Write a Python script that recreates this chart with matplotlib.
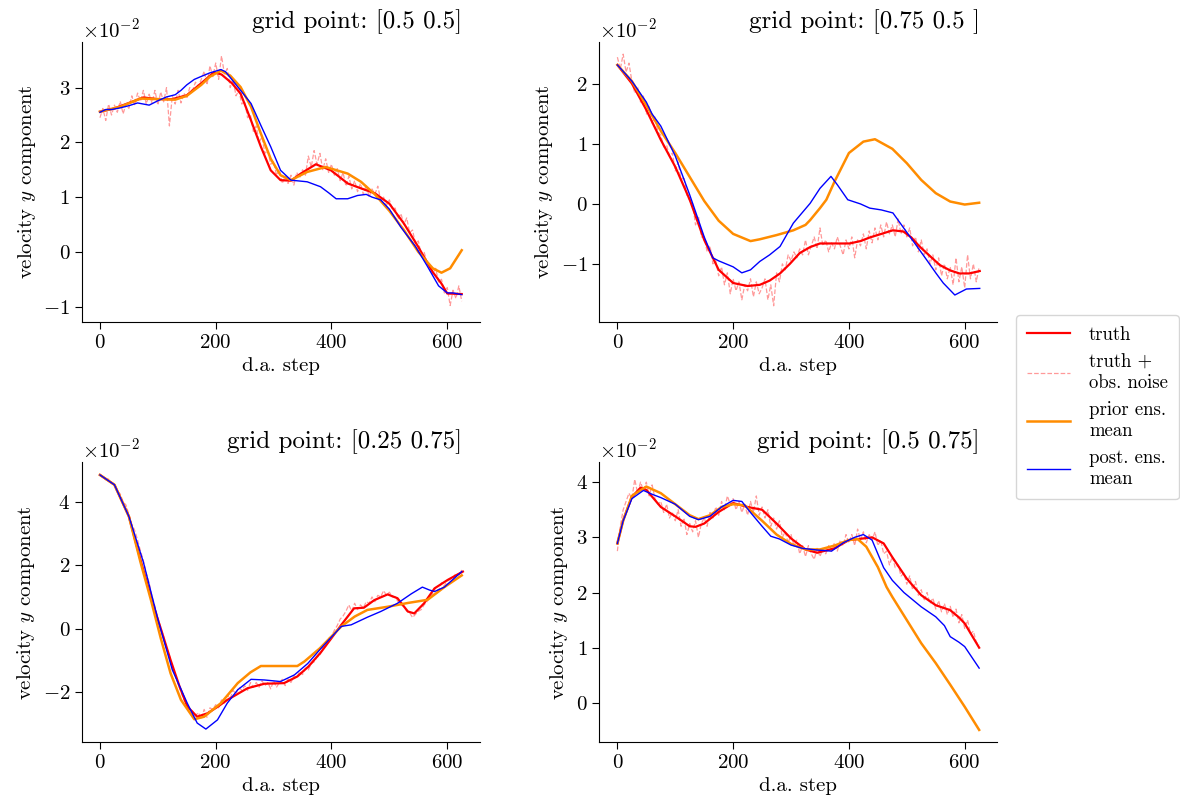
import numpy as np
import matplotlib
matplotlib.use("Agg")
import matplotlib.pyplot as plt

plt.rcParams.update({
    "font.family": "serif",
    "font.serif": ["cmr10"],
    "mathtext.fontset": "cm",
    "axes.formatter.use_mathtext": True,
    "axes.unicode_minus": True,
})

# all velocities below are in units of 1e-2
titles = ["grid point: [0.5 0.5]", "grid point: [0.75 0.5 ]",
          "grid point: [0.25 0.75]", "grid point: [0.5 0.75]"]

# --- grid point [0.5 0.5]
truth_x1 = [0, 25, 50, 75, 100, 125, 150, 175, 197, 210, 228, 243, 261, 278, 295, 312, 330,
            347, 373, 399, 428, 451, 475, 500, 525, 550, 575, 590, 600, 625]
truth_y1 = [2.56, 2.62, 2.72, 2.82, 2.79, 2.79, 2.86, 3.08, 3.28, 3.24, 3.08, 2.89, 2.4, 1.92,
            1.49, 1.31, 1.3, 1.43, 1.6, 1.49, 1.25, 1.16, 1.07, 0.88, 0.52, 0.09, -0.37, -0.58,
            -0.76, -0.77]
prior_x1 = [0, 35, 70, 100, 130, 150, 175, 190, 209, 225, 243, 261, 278, 295, 312, 330, 358,
            390, 428, 451, 475, 500, 525, 550, 575, 590, 605, 625]
prior_y1 = [2.56, 2.65, 2.8, 2.79, 2.78, 2.85, 3.05, 3.2, 3.31, 3.22, 3.01, 2.65, 2.16, 1.7, 1.4,
            1.31, 1.46, 1.55, 1.43, 1.28, 1.05, 0.75, 0.4, 0.0, -0.3, -0.38, -0.3, 0.03]
post_x1 = [0, 10, 20, 35, 50, 65, 75, 85, 100, 115, 130, 140, 150, 163, 174, 190, 209, 217, 243,
           261, 278, 295, 312, 330, 358, 381, 395, 408, 428, 445, 460, 470, 485, 500, 520, 545,
           565, 585, 600, 610, 625]
post_y1 = [2.55, 2.6, 2.6, 2.63, 2.67, 2.72, 2.7, 2.68, 2.76, 2.83, 2.87, 2.95, 3.05, 3.15, 3.2,
           3.27, 3.33, 3.29, 2.95, 2.71, 2.31, 1.92, 1.49, 1.31, 1.28, 1.19, 1.08, 0.97, 0.97,
           1.03, 1.05, 1.0, 0.95, 0.78, 0.45, 0.1, -0.25, -0.62, -0.75, -0.75, -0.78]
obs_y1 = [2.45, 2.62, 2.40, 2.70, 2.50, 2.68, 2.55, 2.75, 2.52, 2.70,
          2.62, 2.85, 2.68, 2.90, 2.75, 2.95, 2.70, 2.88, 2.72, 2.95,
          2.68, 2.92, 2.74, 3.00, 2.30, 2.85, 2.70, 2.95, 2.72, 2.90,
          2.80, 3.00, 2.95, 3.10, 3.02, 3.15, 3.30, 3.05, 3.40, 3.20,
          3.45, 3.15, 3.58, 3.25, 3.35, 3.00, 3.15, 2.85, 2.95, 2.70,
          2.75, 2.45, 2.50, 2.20, 2.30, 2.00, 2.10, 1.80, 1.85, 1.60,
          1.65, 1.40, 1.50, 1.25, 1.38, 1.25, 1.40, 1.22, 1.45, 1.35,
          1.50, 1.40, 1.75, 1.55, 1.85, 1.60, 1.80, 1.50, 1.70, 1.45,
          1.60, 1.40, 1.52, 1.30, 1.45, 1.20, 1.38, 1.15, 1.30, 1.10,
          1.25, 1.05, 1.22, 1.00, 1.15, 1.05, 1.20, 0.95, 1.00, 0.85,
          0.95, 0.78, 0.80, 0.60, 0.70, 0.50, 0.62, 0.35, 0.40, 0.15,
          0.20, -0.05, 0.00, -0.20, -0.25, -0.40, -0.30, -0.55, -0.50, -0.75,
          -0.65, -0.98, -0.70, -0.85, -0.62, -0.90]

# --- grid point [0.75 0.5]
truth_x2 = [0, 25, 50, 75, 100, 125, 150, 175, 200, 225, 246, 263, 281, 298, 315, 333, 350,
            375, 401, 420, 436, 456, 476, 494, 508, 522, 540, 557, 575, 591, 608, 626]
truth_y2 = [2.32, 2.01, 1.57, 1.07, 0.62, 0.07, -0.6, -1.1, -1.32, -1.37, -1.35, -1.28, -1.16,
            -1.0, -0.82, -0.72, -0.66, -0.66, -0.66, -0.62, -0.56, -0.5, -0.44, -0.46, -0.56, -0.71,
            -0.87, -1.02, -1.11, -1.16, -1.16, -1.12]
prior_x2 = [0, 25, 50, 75, 100, 125, 150, 175, 200, 230, 246, 275, 304, 325, 333, 350, 361, 375,
            400, 425, 445, 475, 500, 525, 550, 575, 600, 625]
prior_y2 = [2.32, 2.05, 1.65, 1.22, 0.85, 0.45, 0.05, -0.28, -0.5, -0.62, -0.59, -0.52, -0.44,
            -0.35, -0.27, -0.07, 0.07, 0.37, 0.85, 1.04, 1.08, 0.92, 0.68, 0.40, 0.18, 0.04, -0.01,
            0.02]
post_x2 = [0, 25, 50, 60, 75, 100, 125, 150, 165, 175, 200, 215, 230, 246, 263, 281, 304, 333,
           350, 369, 380, 398, 420, 436, 456, 476, 499, 517, 534, 550, 563, 583, 603, 626]
post_y2 = [2.32, 2.05, 1.7, 1.5, 1.3, 0.8, 0.15, -0.55, -0.9, -0.95, -1.05, -1.15, -1.1, -0.96,
           -0.85, -0.71, -0.32, 0.01, 0.26, 0.46, 0.32, 0.07, 0.0, -0.07, -0.1, -0.15, -0.46,
           -0.7, -0.93, -1.15, -1.32, -1.52, -1.42, -1.41]
obs_y2 = [2.45, 2.25, 2.50, 2.20, 2.35, 2.05, 1.85, 1.95, 1.70, 1.80,
          1.50, 1.62, 1.35, 1.45, 1.20, 1.15, 0.95, 0.98, 0.80, 0.85,
          0.55, 0.70, 0.40, 0.45, 0.15, 0.05, 0.00, -0.35, -0.20, -0.55,
          -0.55, -0.80, -0.70, -1.00, -0.95, -1.20, -1.05, -1.35, -1.15, -1.50,
          -1.25, -1.45, -1.30, -1.60, -1.35, -1.45, -1.25, -1.55, -1.30, -1.50,
          -1.40, -1.25, -1.60, -1.35, -1.70, -1.15, -1.30, -1.00, -1.10, -0.85,
          -0.95, -0.80, -0.90, -0.75, -0.85, -0.60, -0.85, -0.70, -0.55, -0.75,
          -0.40, -0.70, -0.60, -0.80, -0.65, -0.75, -0.55, -0.70, -0.85, -0.60,
          -0.75, -0.55, -0.90, -0.60, -0.70, -0.50, -0.75, -0.45, -0.65, -0.40,
          -0.60, -0.35, -0.55, -0.30, -0.50, -0.35, -0.55, -0.25, -0.50, -0.35,
          -0.55, -0.40, -0.70, -0.55, -0.80, -0.60, -0.85, -0.75, -1.00, -0.85,
          -1.10, -0.90, -1.20, -1.00, -1.25, -1.05, -1.35, -0.90, -1.30, -1.05,
          -1.40, -0.85, -1.25, -1.00, -1.30, -1.05]

# --- grid point [0.25 0.75]
truth_x3 = [0, 25, 50, 70, 93, 108, 122, 137, 151, 168, 186, 203, 220, 238, 255, 284, 318, 341,
            360, 382, 400, 417, 439, 456, 474, 497, 514, 532, 543, 560, 578, 601, 627]
truth_y3 = [4.85, 4.54, 3.54, 2.17, 0.69, -0.17, -0.99, -1.8, -2.46, -2.78, -2.67, -2.47, -2.25,
            -2.06, -1.88, -1.74, -1.72, -1.51, -1.2, -0.74, -0.3, 0.12, 0.64, 0.66, 0.9, 1.08,
            0.96, 0.54, 0.48, 0.8, 1.27, 1.54, 1.8]
prior_x3 = [0, 25, 50, 70, 88, 105, 122, 140, 163, 180, 209, 238, 260, 278, 312, 341, 353, 380,
            417, 440, 462, 497, 532, 566, 595, 625]
prior_y3 = [4.85, 4.54, 3.54, 2.1, 0.91, -0.3, -1.41, -2.25, -2.86, -2.78, -2.35, -1.72, -1.38,
            -1.18, -1.18, -1.18, -1.04, -0.62, 0.07, 0.38, 0.59, 0.69, 0.81, 0.91, 1.31, 1.68]
post_x3 = [0, 25, 50, 75, 100, 125, 151, 168, 183, 203, 220, 238, 261, 284, 312, 336, 359, 382,
           417, 434, 462, 485, 514, 538, 557, 569, 578, 595, 625]
post_y3 = [4.85, 4.54, 3.54, 2.1, 0.3, -1.3, -2.36, -2.98, -3.17, -2.88, -2.35, -1.93, -1.6,
           -1.62, -1.67, -1.46, -1.1, -0.62, 0.07, 0.12, 0.36, 0.54, 0.8, 1.1, 1.31, 1.22, 1.17,
           1.31, 1.8]
obs_y3 = [4.85, 4.80, 4.70, 4.72, 4.60, 4.55, 4.35, 4.25, 4.00, 3.90,
          3.60, 3.30, 3.10, 2.80, 2.45, 2.15, 1.75, 1.45, 1.00, 0.70,
          0.35, 0.05, -0.25, -0.60, -0.85, -1.20, -1.45, -1.75, -2.00, -2.25,
          -2.35, -2.55, -2.60, -2.75, -2.65, -2.85, -2.55, -2.80, -2.50, -2.55,
          -2.40, -2.50, -2.25, -2.35, -2.10, -2.20, -1.95, -2.05, -1.85, -1.95,
          -1.80, -1.95, -1.70, -1.85, -1.70, -1.85, -1.65, -1.80, -1.70, -1.90,
          -1.65, -1.85, -1.70, -1.60, -1.80, -1.60, -1.70, -1.50, -1.55, -1.35,
          -1.45, -1.25, -1.30, -1.10, -1.05, -0.90, -0.85, -0.60, -0.55, -0.30,
          -0.25, -0.05, 0.10, 0.30, 0.40, 0.55, 0.75, 0.55, 0.80, 0.60,
          0.75, 0.65, 0.85, 0.80, 1.00, 0.85, 1.05, 1.00, 1.20, 1.05,
          1.15, 1.00, 1.00, 0.85, 0.75, 0.70, 0.55, 0.50, 0.35, 0.45,
          0.55, 0.60, 0.75, 0.85, 1.00, 1.10, 1.30, 1.20, 1.45, 1.35,
          1.50, 1.55, 1.60, 1.75, 1.70, 1.85]

# --- grid point [0.5 0.75]
truth_x4 = [0, 10, 25, 40, 50, 75, 100, 125, 135, 150, 175, 200, 225, 250, 275, 300, 325, 345,
            375, 400, 425, 440, 460, 475, 500, 525, 550, 575, 590, 600, 625]
truth_y4 = [2.89, 3.31, 3.73, 3.9, 3.86, 3.55, 3.38, 3.2, 3.19, 3.25, 3.46, 3.62, 3.55, 3.5, 3.25,
            2.98, 2.78, 2.72, 2.8, 2.95, 2.98, 3.0, 2.89, 2.64, 2.25, 1.95, 1.77, 1.68, 1.55, 1.44, 1.0]
prior_x4 = [0, 10, 25, 50, 75, 100, 125, 140, 160, 180, 200, 220, 250, 275, 300, 325, 350, 375,
            400, 415, 430, 450, 465, 475, 500, 525, 550, 575, 600, 625]
prior_y4 = [2.89, 3.3, 3.75, 3.92, 3.8, 3.6, 3.4, 3.33, 3.4, 3.55, 3.6, 3.58, 3.3, 3.05, 2.88, 2.78,
            2.78, 2.85, 2.95, 2.97, 2.83, 2.46, 2.1, 1.92, 1.5, 1.08, 0.72, 0.33, -0.07, -0.49]
post_x4 = [0, 10, 25, 45, 60, 75, 100, 125, 140, 160, 180, 200, 215, 230, 250, 265, 280, 300,
           320, 345, 370, 390, 410, 425, 440, 460, 475, 495, 525, 550, 565, 575, 590, 600, 625]
post_y4 = [2.89, 3.3, 3.7, 3.85, 3.78, 3.72, 3.6, 3.38, 3.32, 3.38, 3.55, 3.67, 3.65, 3.45, 3.2,
           3.02, 2.97, 2.86, 2.8, 2.77, 2.75, 2.9, 3.0, 3.05, 2.95, 2.45, 2.22, 2.0, 1.74, 1.56,
           1.4, 1.2, 1.1, 1.02, 0.63]
obs_y4 = [2.75, 3.20, 3.50, 3.65, 3.80, 3.70, 4.05, 3.80, 4.00, 3.85,
          4.00, 3.75, 3.95, 3.70, 3.60, 3.65, 3.45, 3.60, 3.35, 3.45,
          3.30, 3.50, 3.20, 3.35, 3.05, 3.25, 3.10, 3.30, 3.00, 3.25,
          3.35, 3.20, 3.45, 3.35, 3.55, 3.40, 3.65, 3.50, 3.75, 3.60,
          3.70, 3.50, 3.65, 3.45, 3.60, 3.40, 3.65, 3.45, 3.75, 3.40,
          3.55, 3.35, 3.50, 3.20, 3.35, 3.15, 3.30, 3.00, 3.10, 2.90,
          3.05, 2.85, 2.95, 2.70, 2.85, 2.65, 2.85, 2.70, 2.60, 2.80,
          2.65, 2.80, 2.70, 2.85, 2.75, 2.90, 2.75, 2.95, 2.85, 3.05,
          2.90, 3.05, 2.85, 3.15, 2.95, 3.10, 2.90, 3.05, 2.95, 3.10,
          2.85, 2.95, 2.70, 2.75, 2.50, 2.65, 2.45, 2.50, 2.30, 2.35,
          2.15, 2.30, 2.05, 2.20, 1.95, 2.05, 1.85, 2.00, 1.80, 1.90,
          1.70, 1.85, 1.65, 1.80, 1.60, 1.75, 1.55, 1.70, 1.45, 1.60,
          1.35, 1.50, 1.25, 1.30, 1.10, 1.05]

# observations every 5 d.a. steps
obs_x = list(range(0, 630, 5))

panels = [
    (truth_x1, truth_y1, obs_y1, prior_x1, prior_y1, post_x1, post_y1, (-1.28, 3.83)),
    (truth_x2, truth_y2, obs_y2, prior_x2, prior_y2, post_x2, post_y2, (-1.97, 2.70)),
    (truth_x3, truth_y3, obs_y3, prior_x3, prior_y3, post_x3, post_y3, (-3.58, 5.25)),
    (truth_x4, truth_y4, obs_y4, prior_x4, prior_y4, post_x4, post_y4, (-0.71, 4.36)),
]

fig = plt.figure(figsize=(11.8, 8.11), dpi=100)
boxes = [(0.0695, 0.603), (0.508, 0.603), (0.0695, 0.085), (0.508, 0.085)]
w, h = 0.337, 0.345

scale = 1e-2
for (left, bottom), title, p in zip(boxes, titles, panels):
    tx, ty, oy, px, py, qx, qy, ylim = p
    ax = fig.add_axes([left, bottom, w, h])
    ax.plot(tx, np.array(ty) * scale, color="red", lw=1.6, label="truth")
    ax.plot(obs_x, np.array(oy) * scale, color="red", lw=0.9, ls="--", alpha=0.4,
            label="truth +\nobs. noise")
    ax.plot(px, np.array(py) * scale, color="darkorange", lw=1.8, label="prior ens.\nmean")
    ax.plot(qx, np.array(qy) * scale, color="blue", lw=1.0, label="post. ens.\nmean")
    ax.set_xlim(-31, 656)
    ax.set_ylim(ylim[0] * scale, ylim[1] * scale)
    ax.set_xticks([0, 200, 400, 600])
    ax.ticklabel_format(axis="y", style="sci", scilimits=(0, 0))
    ax.tick_params(labelsize=15, length=5)
    ax.yaxis.get_offset_text().set_fontsize(15)
    ax.set_xlabel("d.a. step", fontsize=15)
    ax.set_ylabel("velocity $y$ component", fontsize=15)
    t = ax.set_title(title, loc="right", fontsize=18, pad=10)
    t.set_x(0.957)
    ax.spines["top"].set_visible(False)
    ax.spines["right"].set_visible(False)

handles, labels = ax.get_legend_handles_labels()
fig.legend(handles, labels, loc="center left", bbox_to_anchor=(0.861, 0.498),
           fontsize=13.5, frameon=True, borderaxespad=0, handlelength=2.3,
           handletextpad=1.0, borderpad=0.6)

fig.savefig("out.png", dpi=100)
